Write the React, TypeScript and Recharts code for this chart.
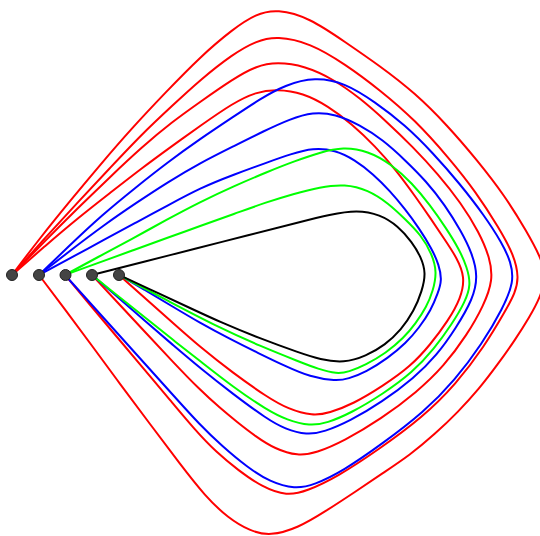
import React from 'react'
import { ScatterChart, Scatter, XAxis, YAxis } from 'recharts'

type Pt = [number, number]

// node positions along the baseline
const nodeXs = [12, 39, 65.5, 92, 119]
const nodeY = 275

// links (source -> target)
const red12: Pt[] = [
  [12, 275], [40, 238], [70, 201], [100, 165], [132, 128], [166, 92], [200, 57], [233, 29],
  [256, 14], [277, 9], [310, 18], [345, 42], [380, 66], [415, 93], [447, 125], [477, 160],
  [505, 196], [527, 232], [541, 258], [546, 276], [541, 296], [529, 318], [515, 340], [498, 364],
  [479, 389], [458, 412], [435, 434], [410, 455], [383, 473], [355, 492], [326, 511], [298, 528],
  [270, 536], [250, 531], [228, 518], [205, 496], [180, 464], [150, 424], [120, 384], [90, 343],
  [64, 308], [39, 275],
]
const red13: Pt[] = [
  [12, 275], [45, 238], [78, 202], [110, 168], [142, 134], [172, 106], [200, 80], [233, 54],
  [256, 41], [277, 36], [310, 43], [345, 64], [380, 90], [415, 120], [449, 158], [476, 192],
  [499, 228], [514, 255], [519, 278], [515, 293], [506, 310], [484, 347], [456, 384], [423, 417],
  [378, 450], [337, 477], [307, 491], [287, 496], [262, 487], [238, 470], [216, 452], [195, 430],
  [170, 400], [143, 368], [117, 337], [91, 306], [65, 275],
]
const red14: Pt[] = [
  [12, 275], [45, 241], [78, 208], [110, 177], [142, 147], [172, 122], [200, 102], [233, 79],
  [256, 66], [277, 62], [305, 66], [333, 79], [360, 98], [387, 122], [413, 147], [438, 174],
  [461, 203], [479, 232], [490, 258], [493, 280], [484, 305], [467, 335], [444, 366], [417, 392],
  [381, 419], [344, 441], [316, 453], [298, 456], [275, 449], [255, 436], [237, 422], [220, 408],
  [200, 390], [173, 362], [146, 333], [119, 304], [92, 275],
]
const red15: Pt[] = [
  [12, 275], [45, 246], [78, 218], [110, 193], [142, 168], [172, 146], [200, 126], [233, 103],
  [256, 92], [277, 89], [303, 93], [328, 106], [352, 124], [375, 146], [396, 170], [415, 196],
  [431, 219], [445, 240], [457, 258], [465, 277], [461, 298], [448, 321], [430, 345], [411, 366],
  [383, 386], [353, 404], [329, 413], [313, 416], [288, 409], [267, 397], [233, 373], [200, 347],
  [173, 323], [146, 299], [119, 275],
]
const blue23: Pt[] = [
  [39, 275], [70, 245], [102, 215], [135, 188], [168, 162], [200, 139], [233, 117], [260, 99],
  [285, 85], [315, 77], [345, 83], [375, 102], [405, 125], [433, 153], [460, 184], [484, 215],
  [502, 243], [511, 262], [514, 282], [503, 308], [482, 344], [455, 380], [424, 412], [382, 444],
  [343, 471], [314, 485], [295, 489], [270, 482], [247, 467], [222, 446], [200, 425], [173, 395],
  [146, 365], [119, 335], [92, 305], [65, 275],
]
const blue24: Pt[] = [
  [39, 275], [71, 250], [104, 225], [136, 203], [168, 182], [200, 163], [234, 146], [264, 131],
  [290, 119], [313, 112], [335, 114], [360, 125], [383, 140], [405, 160], [426, 181], [445, 205],
  [461, 231], [472, 253], [478, 276], [473, 299], [456, 328], [437, 355], [414, 378], [382, 402],
  [350, 421], [324, 432], [307, 435], [285, 429], [267, 419], [233, 394], [200, 368], [173, 345],
  [146, 322], [119, 298], [92, 275],
]
const blue25: Pt[] = [
  [39, 275], [71, 257.7], [104, 239.9], [136, 222.6], [168, 205.3], [200, 188], [234, 174.5],
  [267, 162.5], [291, 154], [313, 148], [335, 150], [355, 160], [373, 174], [390, 191], [405, 209],
  [419, 228], [432, 249], [439, 265], [442, 280], [438, 293], [431, 310], [419, 328], [406, 343],
  [388, 358], [366, 372], [348, 379], [336, 381], [310, 377], [285, 366], [258, 353], [230, 339],
  [200, 323], [170, 305], [145, 290], [119, 275],
]
const green34: Pt[] = [
  [65, 275], [98, 257], [132, 239], [166, 220], [200, 202], [234, 186], [267, 172], [295, 161],
  [320, 152.5], [343, 147], [368, 151], [391, 164], [412, 183], [430, 205], [446, 228], [459, 249],
  [467, 267], [471, 285], [465, 302], [452, 324], [434, 349], [413, 372], [383, 394], [351, 413],
  [327, 423], [310, 426], [287, 420], [267, 410], [233, 387], [200, 361], [173, 340], [146, 318],
  [119, 297], [92, 275],
]
const green35: Pt[] = [
  [65, 275], [99, 262.6], [133, 250.3], [167, 238], [200, 226], [234, 214], [267, 202], [293, 194],
  [320, 187], [345, 184], [368, 190], [388, 203], [405, 219], [421, 235], [432, 254], [437, 272],
  [433, 291], [426.5, 307], [415.7, 323.5], [403.7, 338], [386, 353], [365.6, 365],
  [348.5, 372], [337, 374], [318, 369], [300, 362], [260, 346], [220, 328], [170, 302], [119, 275],
]
const black45: Pt[] = [
  [92, 275], [144, 261.8], [196, 248.5], [248, 235.3], [300, 222], [330, 214.5], [357, 210],
  [380, 214.5], [398, 226], [412, 242], [421, 257], [426, 273], [422, 291], [414, 311], [401, 330],
  [385, 345], [366, 356], [344, 363], [320, 359.5], [300, 353], [260, 338.5], [220, 322],
  [190, 308], [160, 294], [119, 275],
]

const links = [
  { id: 'r12', color: '#ff0000', pts: red12 },
  { id: 'r13', color: '#ff0000', pts: red13 },
  { id: 'r14', color: '#ff0000', pts: red14 },
  { id: 'r15', color: '#ff0000', pts: red15 },
  { id: 'b23', color: '#0000ff', pts: blue23 },
  { id: 'b24', color: '#0000ff', pts: blue24 },
  { id: 'b25', color: '#0000ff', pts: blue25 },
  { id: 'g34', color: '#00ff00', pts: green34 },
  { id: 'g35', color: '#00ff00', pts: green35 },
  { id: 'k45', color: '#000000', pts: black45 },
]

const noMark = () => <g />

const NodeDot = (props: any) => (
  <circle cx={props.cx} cy={props.cy} r={5.5} fill="#444444" stroke="#222222" strokeWidth={1} />
)

export default function App() {
  const nodes = nodeXs.map((x) => ({ x, y: nodeY }))
  return (
    <div style={{ position: 'absolute', left: 0, top: 0, width: 540, height: 536, background: '#fff' }}>
      <ScatterChart width={540} height={536} margin={{ top: 0, right: 0, bottom: 0, left: 0 }}>
        <XAxis type="number" dataKey="x" domain={[0, 540]} hide allowDataOverflow />
        <YAxis type="number" dataKey="y" domain={[0, 536]} reversed hide allowDataOverflow />
        {links.map((l) => (
          <Scatter
            key={l.id}
            data={l.pts.map(([x, y]) => ({ x, y }))}
            fill={l.color}
            line={{ stroke: l.color, strokeWidth: 2 }}
            lineJointType="basis"
            shape={noMark}
            isAnimationActive={false}
          />
        ))}
        <Scatter data={nodes} shape={NodeDot} isAnimationActive={false} />
      </ScatterChart>
    </div>
  )
}
